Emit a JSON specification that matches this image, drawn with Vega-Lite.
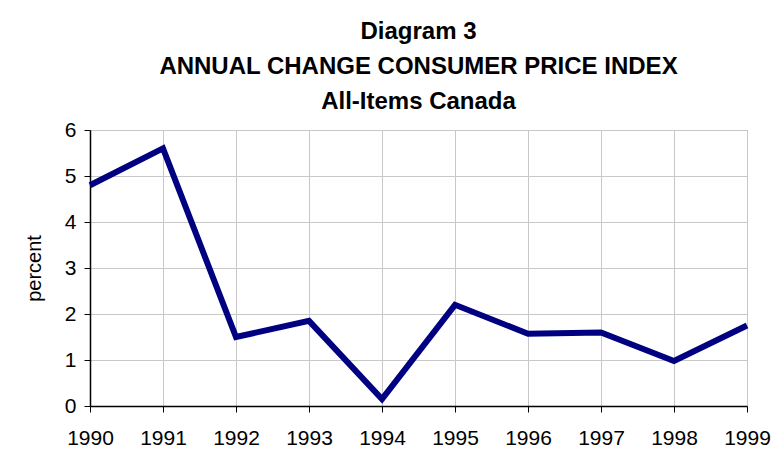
{
  "$schema": "https://vega.github.io/schema/vega-lite/v6.json",
  "width": 657,
  "height": 276,
  "autosize": {"type": "none"},
  "padding": {"left": 90, "top": 130, "right": 30, "bottom": 58},
  "background": "white",
  "title": {
    "text": ["Diagram 3", "ANNUAL CHANGE CONSUMER PRICE INDEX", "All-Items Canada"],
    "font": "Liberation Sans",
    "fontSize": 24,
    "fontWeight": "bold",
    "lineHeight": 35,
    "color": "black",
    "anchor": "middle",
    "offset": 5
  },
  "data": {
    "values": [
      {"year": 1990, "percent": 4.8},
      {"year": 1991, "percent": 5.6},
      {"year": 1992, "percent": 1.5},
      {"year": 1993, "percent": 1.85},
      {"year": 1994, "percent": 0.15},
      {"year": 1995, "percent": 2.2},
      {"year": 1996, "percent": 1.57},
      {"year": 1997, "percent": 1.6},
      {"year": 1998, "percent": 0.98},
      {"year": 1999, "percent": 1.75}
    ]
  },
  "mark": {"type": "line", "color": "#000080", "strokeWidth": 6, "strokeJoin": "miter"},
  "encoding": {
    "x": {
      "field": "year",
      "type": "quantitative",
      "scale": {"domain": [1990, 1999], "nice": false, "zero": false},
      "axis": {
        "values": [1990, 1991, 1992, 1993, 1994, 1995, 1996, 1997, 1998, 1999],
        "format": "d",
        "title": null,
        "labelFontSize": 21,
        "labelPadding": 15,
        "tickSize": 6,
        "labelFlush": false
      }
    },
    "y": {
      "field": "percent",
      "type": "quantitative",
      "scale": {"domain": [0, 6], "nice": false},
      "axis": {
        "values": [0, 1, 2, 3, 4, 5, 6],
        "title": "percent",
        "titleFontSize": 20,
        "titleFontWeight": "normal",
        "titlePadding": 20,
        "labelFontSize": 21,
        "labelPadding": 8,
        "tickSize": 6
      }
    }
  },
  "config": {
    "font": "Liberation Sans",
    "view": {"stroke": "#a0a0a0", "strokeWidth": 1},
    "axis": {
      "domainColor": "black",
      "domainWidth": 1.5,
      "tickColor": "black",
      "tickWidth": 1,
      "gridColor": "#c8c8c8",
      "gridWidth": 1,
      "labelColor": "black",
      "titleColor": "black",
      "labelFont": "Liberation Sans",
      "titleFont": "Liberation Sans"
    }
  }
}
